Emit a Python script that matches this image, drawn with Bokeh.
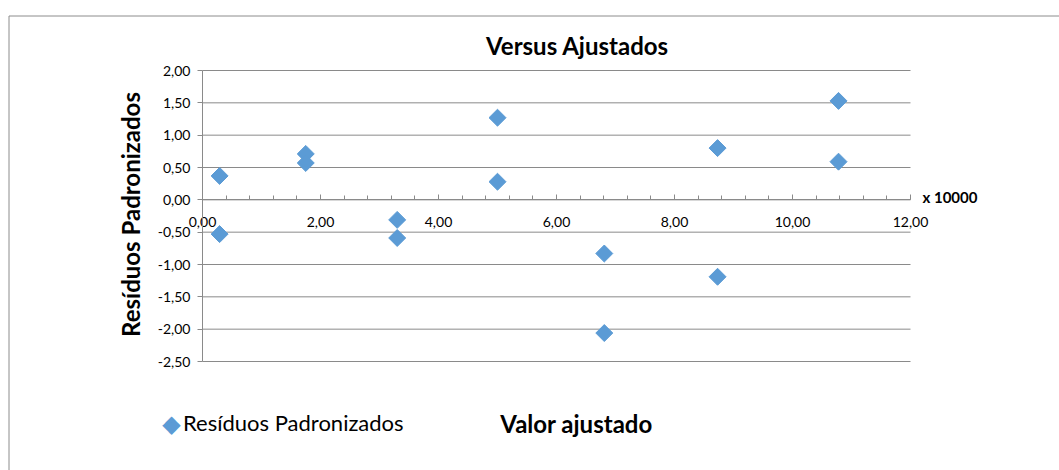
import math
from bokeh.plotting import figure
from bokeh.models import (LinearAxis, FixedTicker, CustomJSTickFormatter, Label,
                          Legend, LegendItem, Range1d, BoxAnnotation, ColumnDataSource)
from bokeh.embed import file_html
from bokeh.resources import INLINE

# data (fitted value in units of 10000, standardized residual)
fitted = [0.29, 0.29, 1.75, 1.75, 3.30, 3.30, 5.00, 5.00, 6.81, 6.81, 8.73, 8.73, 10.78, 10.78]
residuals = [0.37, -0.53, 0.71, 0.57, -0.31, -0.59, 1.27, 0.28, -0.83, -2.06, 0.80, -1.19, 1.53, 0.59]
x_ticks = [0, 2, 4, 6, 8, 10, 12]
y_ticks = [-2.5, -2.0, -1.5, -1.0, -0.5, 0.0, 0.5, 1.0, 1.5, 2.0]

FONT = "Lato"
GRID = "#8a8a8a"
BLUE = "#5B9BD5"

W, H = 1059, 470
# pixel positions of the plotting area inside the chart
FL, FR, FT, FB = 202, 910, 70, 361
X0, X1 = 0.0, 12.0
Y0, Y1 = -2.5, 2.0
sx = (FR - FL) / (X1 - X0)
sy = (FB - FT) / (Y1 - Y0)

p = figure(width=W, height=H, output_backend="svg", toolbar_location=None,
           x_range=Range1d(X0 - FL / sx, X1 + (W - FR) / sx),
           y_range=Range1d(Y0 - (H - FB) / sy, Y1 + FT / sy),
           x_axis_type=None, y_axis_type=None,
           min_border_left=0, min_border_right=0, min_border_top=0, min_border_bottom=0)
p.outline_line_color = None
p.background_fill_color = "white"
p.border_fill_color = "white"
p.title.visible = False
p.xgrid.visible = False
p.ygrid.visible = False

fmt = CustomJSTickFormatter(code="return tick.toFixed(2).replace('.', ',');")

# horizontal gridlines limited to the plotting area
p.segment(x0=[X0] * len(y_ticks), x1=[X1] * len(y_ticks), y0=y_ticks, y1=y_ticks,
          line_color=GRID, line_width=1)

yaxis = LinearAxis(ticker=FixedTicker(ticks=y_ticks), formatter=fmt,
                   fixed_location=X0, bounds=(Y0, Y1))
yaxis.axis_line_color = GRID
yaxis.major_tick_line_color = GRID
yaxis.major_tick_out = 5
yaxis.major_tick_in = 0
yaxis.minor_tick_line_color = None
yaxis.major_label_standoff = 7
yaxis.major_label_text_font = FONT
yaxis.major_label_text_font_size = "14px"
yaxis.major_label_text_color = "#000000"
p.add_layout(yaxis, "left")

minor = [i * 0.4 for i in range(31)]
xaxis = LinearAxis(ticker=FixedTicker(ticks=x_ticks, minor_ticks=minor), formatter=fmt,
                   fixed_location=0, bounds=(X0, X1))
xaxis.axis_line_color = GRID
xaxis.major_tick_line_color = GRID
xaxis.minor_tick_line_color = GRID
xaxis.major_tick_out = 0
xaxis.major_tick_in = 5
xaxis.minor_tick_out = 0
xaxis.minor_tick_in = 4
xaxis.major_label_standoff = 17
xaxis.major_label_text_font = FONT
xaxis.major_label_text_font_size = "14px"
xaxis.major_label_text_color = "#000000"
p.add_layout(xaxis, "below")

src = ColumnDataSource(dict(x=fitted, y=residuals))
r = p.scatter("x", "y", source=src, marker="square", size=12, angle=math.pi / 4,
              fill_color=BLUE, line_color=BLUE)

# legend (its own glyph is replaced by a diamond symbol drawn on top)
legend = Legend(items=[LegendItem(label="Resíduos Padronizados", renderers=[r])],
                location=(159, 34), border_line_color=None, background_fill_alpha=0,
                label_text_font=FONT, label_text_font_size="22px", label_text_color="#000000",
                label_height=26, glyph_width=24, glyph_height=1, padding=0, margin=0,
                label_standoff=0)
p.add_layout(legend, "center")
p.add_layout(Label(x=171, y=H - 423, text="◆", x_units="screen", y_units="screen",
                   text_font="DejaVu Sans", text_font_size="24px", text_color=BLUE,
                   text_align="center", text_baseline="middle"))

common = dict(x_units="screen", y_units="screen", text_font=FONT, text_color="#000000",
              text_align="center", text_baseline="middle", text_font_style="bold")
p.add_layout(Label(x=577, y=H - 45, text="Versus Ajustados", text_font_size="24px", **common))
p.add_layout(Label(x=576, y=H - 423, text="Valor ajustado", text_font_size="24px", **common))
p.add_layout(Label(x=130, y=H - 214, text="Resíduos Padronizados", angle=math.pi / 2,
                   text_font_size="24px", **common))
p.add_layout(Label(x=X1, y=0, x_offset=12, y_offset=3, text="x 10000", text_font=FONT,
                   text_font_size="15px", text_font_style="bold", text_color="#000000",
                   text_baseline="middle", text_align="left"))

p.add_layout(BoxAnnotation(left=8.5, right=W + 50, top=H - 15.5, bottom=-50,
                           left_units="screen", right_units="screen",
                           top_units="screen", bottom_units="screen",
                           fill_color=None, line_color="#8c8c8c", line_alpha=1.0,
                           line_width=1))

open("out.html", "w").write(file_html(p, INLINE))
